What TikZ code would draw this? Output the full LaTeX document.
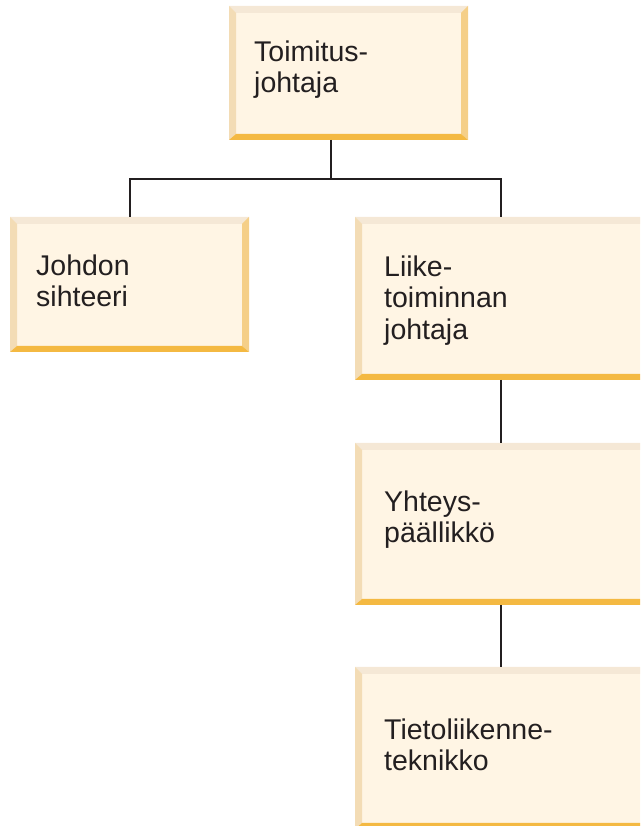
\documentclass[tikz,border=0pt]{standalone}
\usepackage{fontspec}
\setmainfont{Liberation Sans}
\usetikzlibrary{calc}

\definecolor{boxfill}{HTML}{FFF5E4}
\definecolor{bevtop}{HTML}{F5E8D6}
\definecolor{bevleft}{HTML}{F3DCB5}
\definecolor{bevright}{HTML}{F5CF88}
\definecolor{bevbottom}{HTML}{F4B942}
\definecolor{ink}{HTML}{231F20}

\tikzset{
  orgbox/.style={rectangle, inner sep=0pt, outer sep=0pt, fill=boxfill},
  % base anchor sits on the last line of a multi-line label
  orglabel/.style={anchor=base west, inner sep=0pt, align=left, text=ink,
    font=\fontsize{28.5}{31.5}\selectfont},
  link/.style={draw=ink, line width=2pt}
}

% beveled frame around a named box node
\newcommand\bevelframe[1]{%
  \fill[bevtop] (#1.north west) -- (#1.north east) -- ($(#1.north east)+(-7,-7)$) -- ($(#1.north west)+(7,-7)$) -- cycle;
  \fill[bevleft] (#1.north west) -- ($(#1.north west)+(7,-7)$) -- ($(#1.south west)+(7,6)$) -- (#1.south west) -- cycle;
  \fill[bevright] (#1.north east) -- (#1.south east) -- ($(#1.south east)+(-7,6)$) -- ($(#1.north east)+(-7,-7)$) -- cycle;
  \fill[bevbottom] (#1.south west) -- (#1.south east) -- ($(#1.south east)+(-7,6)$) -- ($(#1.south west)+(7,6)$) -- cycle;
}

\begin{document}
\begin{tikzpicture}[x=1pt, y=1pt]
  \useasboundingbox (0,0) rectangle (640,826);
  \clip (0,0) rectangle (640,826);

  % boxes
  \node[orgbox, minimum width=239pt, minimum height=134pt] (ceo)  at (348.5,753) {};
  \node[orgbox, minimum width=239pt, minimum height=135pt] (sec)  at (129.5,541.5) {};
  \node[orgbox, minimum width=300pt, minimum height=163pt] (biz)  at (505,527.5) {};
  \node[orgbox, minimum width=300pt, minimum height=162pt] (liai) at (505,302) {};
  \node[orgbox, minimum width=300pt, minimum height=162pt] (tech) at (505,78) {};

  \bevelframe{ceo}
  \bevelframe{sec}
  \bevelframe{biz}
  \bevelframe{liai}
  \bevelframe{tech}

  % labels
  \node[orglabel] (ceoT)  at (254,733)   {Toimitus-\\johtaja};
  \node[orglabel] (secT)  at (36,519)    {Johdon\\sihteeri};
  \node[orglabel] (bizT)  at (384,486.7) {Liike-\\toiminnan\\johtaja};
  \node[orglabel] (liaiT) at (384,283.3) {Yhteys-\\päällikkö};
  \node[orglabel] (techT) at (384,55.3)  {Tietoliikenne-\\teknikko};

  % connectors
  \coordinate (hub) at (331,647);
  \coordinate (spine) at (501,647);
  \draw[link] (hub |- ceo.south) -- (hub);
  \draw[link] (sec.north) |- (spine) -- (spine |- biz.north);
  \draw[link] (spine |- biz.south) -- (spine |- liai.north);
  \draw[link] (spine |- liai.south) -- (spine |- tech.north);
\end{tikzpicture}
\end{document}
